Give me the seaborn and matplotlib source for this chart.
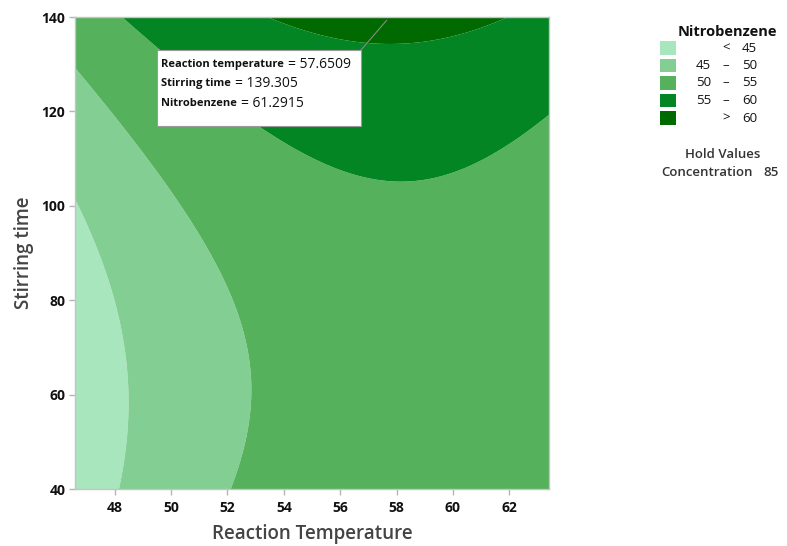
import numpy as np
import matplotlib
matplotlib.use("Agg")
import matplotlib.pyplot as plt
import seaborn as sns
from matplotlib.patches import Rectangle

# Fitted response surface for Nitrobenzene (coded units, Concentration held at 85)
temp_center, temp_step = 55.0, 5.0
time_center, time_step = 90.0, 50.0
coef_const = 52.65
coef_linear = [2.38, 4.27]      # Temperature, Stirring time
coef_square = [-1.77, 3.86]     # Temperature^2, Stirring time^2
coef_cross = -0.48              # Temperature * Stirring time

temp_limits = [46.59, 63.41]
time_limits = [40, 140]
temp_ticks = [48, 50, 52, 54, 56, 58, 60, 62]
time_ticks = [40, 60, 80, 100, 120, 140]

level_breaks = [45, 50, 55, 60]
level_rows = [("", "<", "45"), ("45", "–", "50"), ("50", "–", "55"),
              ("55", "–", "60"), ("", ">", "60")]
level_colors = ["#a8e6be", "#83cf93", "#55b15b", "#038524", "#006900"]

probe_temp, probe_time = 57.6509, 139.305
probe_lines = [("Reaction temperature", "57.6509"),
               ("Stirring time", "139.305"),
               ("Nitrobenzene", "61.2915")]
hold_name, hold_value = "Concentration", 85

W, H = 787, 546
sns.set_theme(style="white")
plt.rcParams["font.family"] = ["Open Sans", "DejaVu Sans"]


def fx(px):
    return px / W


def fy(py):
    return 1 - py / H


def response(temp, time):
    x = (temp - temp_center) / temp_step
    y = (time - time_center) / time_step
    return (coef_const + coef_linear[0] * x + coef_linear[1] * y
            + coef_square[0] * x ** 2 + coef_square[1] * y ** 2
            + coef_cross * x * y)


fig = plt.figure(figsize=(W / 100, H / 100), dpi=100)
ax = fig.add_axes([fx(75), fy(489), fx(549) - fx(75), fy(17) - fy(489)])

tt, ss = np.meshgrid(np.linspace(*temp_limits, 500), np.linspace(*time_limits, 500))
zz = response(tt, ss)
levels = [zz.min() - 1] + level_breaks + [zz.max() + 1]
ax.contourf(tt, ss, zz, levels=levels, colors=level_colors, antialiased=True)

ax.set_xlim(temp_limits)
ax.set_ylim(time_limits)
ax.set_xticks(temp_ticks)
ax.set_yticks(time_ticks)
ax.tick_params(axis="both", which="major", direction="out", length=4, width=1,
               color="#b5b5b5", labelsize=10, labelcolor="#111111",
               bottom=True, left=True)
ax.tick_params(axis="x", pad=5)
ax.tick_params(axis="y", pad=3)
for lab in ax.get_xticklabels() + ax.get_yticklabels():
    lab.set_fontweight("bold")
for sp in ax.spines.values():
    sp.set_color("#c4c4c4")
    sp.set_linewidth(1)

ax.set_xlabel("Reaction Temperature", fontsize=13.5, fontweight="semibold",
              color="#444444", labelpad=6)
ax.set_ylabel("Stirring time", fontsize=13.5, fontweight="semibold",
              color="#444444", labelpad=5)

# Probe read-out box with leader line
box = Rectangle((fx(157), fy(126)), fx(361) - fx(157), fy(50) - fy(126),
                transform=fig.transFigure, facecolor="white",
                edgecolor="#9a9a9a", linewidth=0.8, zorder=5)
fig.patches.append(box)
ax.annotate("", xy=(probe_temp, probe_time), xycoords="data",
            xytext=(fx(361), fy(50)), textcoords="figure fraction",
            arrowprops=dict(arrowstyle="-", color="#8a8a8a", lw=0.8,
                            shrinkA=0, shrinkB=0), zorder=6)

fig.canvas.draw()
renderer = fig.canvas.get_renderer()
for i, (name, value) in enumerate(probe_lines):
    ypix = 64.5 + i * 19.3
    t = fig.text(fx(161), fy(ypix), name, fontsize=8, fontweight="bold",
                 color="#111111", va="center", ha="left", zorder=7)
    ext = t.get_window_extent(renderer)
    fig.text(ext.x1 / W + fx(4), fy(ypix), "= " + value, fontsize=10,
             color="#111111", va="center", ha="left", zorder=7)

# Legend
fig.text(fx(727), fy(32), "Nitrobenzene", fontsize=10.5, fontweight="bold",
         color="#111111", ha="center", va="center")
for i, ((lo, sym, hi), col) in enumerate(zip(level_rows, level_colors)):
    ypix = 48 + i * 17.5
    fig.patches.append(Rectangle((fx(660), fy(ypix + 6.5)), fx(16), 13 / H,
                                 transform=fig.transFigure, facecolor=col,
                                 edgecolor="none"))
    if lo:
        fig.text(fx(711), fy(ypix), lo, fontsize=9.5, color="#111111",
                 ha="right", va="center")
    fig.text(fx(726), fy(ypix), sym, fontsize=9.5, color="#111111",
             ha="center", va="center")
    fig.text(fx(757), fy(ypix), hi, fontsize=9.5, color="#111111",
             ha="right", va="center")

fig.text(fx(723), fy(155), "Hold Values", fontsize=9.5, fontweight="semibold",
         color="#333333", ha="center", va="center")
fig.text(fx(707), fy(172), hold_name, fontsize=9.5, fontweight="semibold",
         color="#333333", ha="center", va="center")
fig.text(fx(771), fy(172), str(hold_value), fontsize=9.5, fontweight="semibold",
         color="#333333", ha="center", va="center")

fig.savefig("out.png", dpi=100)
